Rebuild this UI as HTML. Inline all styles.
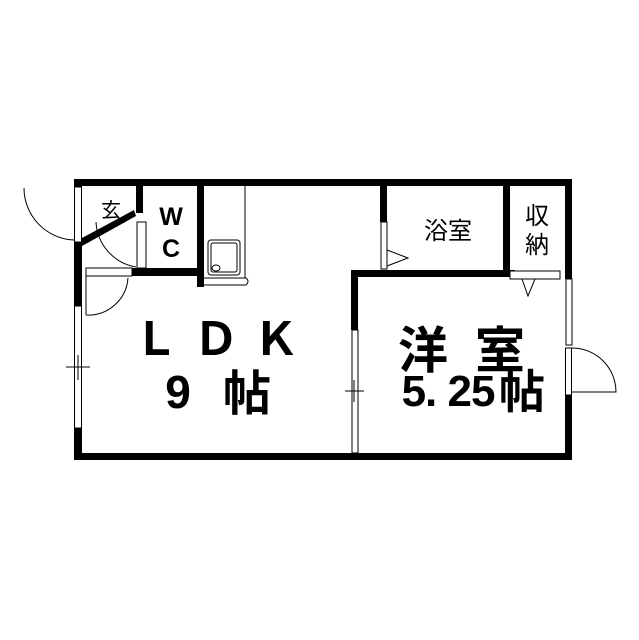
<!DOCTYPE html>
<html><head><meta charset="utf-8"><style>body{margin:0;background:#fff}svg{display:block}</style></head><body>
<svg width="639" height="640" viewBox="0 0 639 640" xmlns="http://www.w3.org/2000/svg" font-family="'Liberation Sans','Noto Sans CJK JP',sans-serif">
<rect width="639" height="640" fill="#fff"/>
<g fill="#000">
<rect x="74" y="179" width="498" height="7"/>
<rect x="74" y="453" width="498" height="7"/>
<rect x="565" y="179" width="7" height="100"/>
<rect x="565" y="395" width="7" height="65"/>
<rect x="74" y="179" width="8" height="8"/>
<rect x="74" y="242" width="8" height="64"/>
<rect x="74" y="428" width="8" height="30"/>
<rect x="136" y="186" width="7" height="27"/>
<rect x="132" y="268" width="72" height="8"/>
<rect x="197" y="186" width="7" height="101"/>
<rect x="380" y="186" width="7" height="36"/>
<rect x="351" y="270" width="164" height="7"/>
<rect x="503" y="186" width="7" height="90"/>
<rect x="351" y="270" width="7" height="60"/>
</g>
<polygon points="82,238 134,210 136,216 82,246" fill="#000"/>
<g fill="#fff" stroke="#000" stroke-width="1">
<rect x="74.5" y="187" width="7" height="55"/>
<rect x="74.5" y="306" width="7" height="122"/>
<rect x="352" y="330" width="6" height="123"/>
<rect x="566" y="279" width="6" height="66"/>
<rect x="565.5" y="348" width="6" height="47"/>
<rect x="381" y="222" width="6" height="47"/>
<rect x="510" y="271" width="50" height="8"/>
<rect x="137" y="222" width="9" height="46"/>
<rect x="86" y="268" width="46" height="8"/>
</g>
<g fill="none" stroke="#000" stroke-width="1">
<path d="M24,188 A52,52 0 0 0 74,240"/>
<path d="M96,222 A48,48 0 0 0 136,267"/>
<path d="M86,315 L86,276 M86,315 A40,40 0 0 0 128,278"/>
<path d="M572,348 A44,44 0 0 1 616,392 L572,392"/>
<line x1="245" y1="186" x2="245" y2="278"/>
<rect x="208" y="240" width="32" height="35" rx="3"/>
<rect x="211" y="243" width="26" height="29" rx="2"/>
<ellipse cx="216" cy="268" rx="4" ry="3"/>
<path d="M204,278 L246,278 Q250,281 246,285 L204,285"/>
<path d="M387,250 L408,258 L387,266"/>
<path d="M522,279 L528,296 L535,279"/>
<line x1="66" y1="367" x2="90" y2="367"/>
<line x1="78" y1="355" x2="78" y2="380"/>
<line x1="345" y1="391" x2="364" y2="391"/>
<line x1="354" y1="380" x2="354" y2="402"/>
</g>
<g fill="#000" text-anchor="middle">
<text x="111" y="217" font-size="20">玄</text>
<text x="171" y="225" font-size="25" font-weight="bold">W</text>
<text x="171" y="257" font-size="25" font-weight="bold">C</text>
<text x="448" y="239" font-size="24">浴室</text>
<text x="537" y="224" font-size="24">収</text>
<text x="537" y="253" font-size="24">納</text>
</g>
<g fill="#000" text-anchor="middle" font-weight="bold">
<text x="223" y="355" font-size="46" letter-spacing="14">ＬＤＫ</text>
<text x="178" y="408" font-size="46">9</text>
<text x="247" y="410" font-size="48">帖</text>
<text x="423" y="368" font-size="50">洋</text>
<text x="500" y="368" font-size="50">室</text>
<text x="448" y="406" font-size="44" letter-spacing="-1">5. 25</text>
<text x="522" y="408" font-size="46">帖</text>
</g>
</svg>
</body></html>
